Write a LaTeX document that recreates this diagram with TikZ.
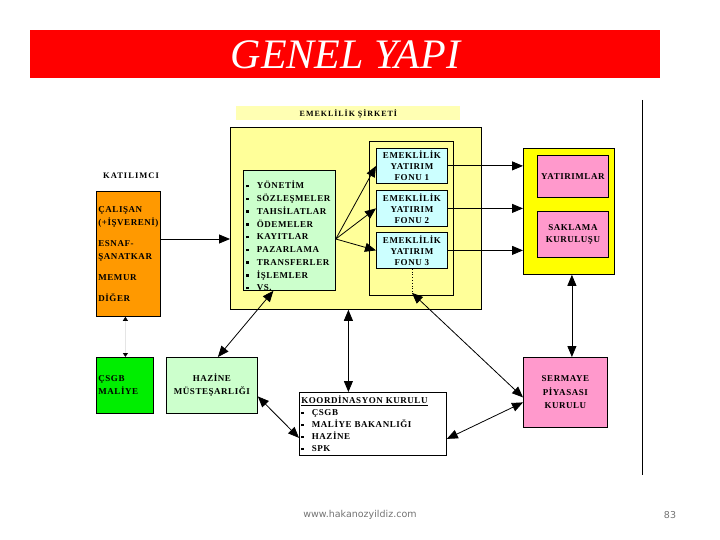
\documentclass[tikz,border=0pt]{standalone}
\usepackage{fontspec}
\setmainfont{Liberation Serif}
\newfontfamily\kutufont[LetterSpace=6]{Liberation Serif}
\newfontfamily\etiketfont[LetterSpace=12]{Liberation Serif}
\newfontfamily\altfont{DejaVu Sans}
\usetikzlibrary{arrows.meta,positioning}

\definecolor{baslikkirmizi}{HTML}{FF0000}
\definecolor{sirketsari}{HTML}{FFFF99}
\definecolor{etiketsari}{HTML}{FFFFB3}
\definecolor{listeyesil}{HTML}{CCFFCC}
\definecolor{fonmavi}{HTML}{CCFFFF}
\definecolor{varliksari}{HTML}{FFFF00}
\definecolor{pembe}{HTML}{FF99CC}
\definecolor{turuncu}{HTML}{FF9900}
\definecolor{yesil}{HTML}{00EE00}

\newcommand{\madde}{\rule[1.5pt]{2.5pt}{2.5pt}\hspace{8pt}}

\begin{document}
\begin{tikzpicture}[x=1pt,y=-1pt,line width=0.8pt,
    kutu/.style={draw,anchor=north west,inner sep=2pt,align=center,
      font=\kutufont\bfseries\fontsize{9}{12.5}\selectfont},
    ok/.style={-{Triangle[length=11pt,width=9pt]}},
    ciftok/.style={{Triangle[length=11pt,width=9pt]}-{Triangle[length=11pt,width=9pt]}},
    kucukok/.style={{Triangle[length=4pt,width=5pt,color=black]}-{Triangle[length=4pt,width=5pt,color=black]},draw=black!10}]
    \useasboundingbox (0,0) rectangle (720,540);

    % baslik
    \node[fill=baslikkirmizi,text=white,anchor=north west,inner sep=0,
      minimum width=630pt,minimum height=48pt,
      font=\itshape\fontsize{42}{42}\selectfont] (baslik) at (30,30) {GENEL YAPI};
    \draw[line width=1pt] (642,100) -- (642,475);

    % emeklilik sirketi
    \node[fill=etiketsari,anchor=north west,inner sep=0,minimum width=224pt,minimum height=14pt,
      font=\etiketfont\bfseries\fontsize{8}{8}\selectfont] (sirketadi) at (236,106) {EMEKLİLİK ŞİRKETİ};
    \node[kutu,fill=sirketsari,minimum width=251pt,minimum height=182pt] (sirket) at (230,127) {};
    \node[kutu,fill=sirketsari,minimum width=84pt,minimum height=154pt] (fonlar) at (369,141) {};
    \node[kutu,fill=listeyesil,minimum width=92pt,minimum height=120pt] (liste) at (243,170) {};
    \node[anchor=west,inner sep=0,align=left,
      font=\kutufont\bfseries\fontsize{9}{12.75}\selectfont] (listeyazi) at (246,236)
      {\madde YÖNETİM\\ \madde SÖZLEŞMELER\\ \madde TAHSİLATLAR\\ \madde ÖDEMELER\\ \madde KAYITLAR\\
       \madde PAZARLAMA\\ \madde TRANSFERLER\\ \madde İŞLEMLER\\ \madde VS.};
    \node[kutu,fill=fonmavi,minimum width=71pt,minimum height=35pt,
      font=\kutufont\bfseries\fontsize{9}{11}\selectfont] (fon1) at (376,148) {EMEKLİLİK\\YATIRIM\\FONU 1};
    \node[kutu,fill=fonmavi,minimum width=71pt,minimum height=36pt,
      font=\kutufont\bfseries\fontsize{9}{11}\selectfont] (fon2) at (376,190) {EMEKLİLİK\\YATIRIM\\FONU 2};
    \node[kutu,fill=fonmavi,minimum width=71pt,minimum height=36pt,
      font=\kutufont\bfseries\fontsize{9}{11}\selectfont] (fon3) at (376,232) {EMEKLİLİK\\YATIRIM\\FONU 3};

    % yatirimlar ve saklama
    \node[kutu,fill=varliksari,minimum width=91pt,minimum height=126pt] (varlik) at (523,148) {};
    \node[kutu,fill=pembe,minimum width=71pt,minimum height=42pt] (yatirimlar) at (537,155) {YATIRIMLAR};
    \node[kutu,fill=pembe,minimum width=71pt,minimum height=46pt] (saklama) at (537,211) {SAKLAMA\\KURULUŞU};

    % katilimci
    \node[anchor=center,inner sep=0,font=\etiketfont\bfseries\fontsize{8.5}{9}\selectfont] (katilimciadi) at (131,176) {KATILIMCI};
    \node[kutu,fill=turuncu,text width=60pt,align=left,minimum height=125pt,
      font=\kutufont\bfseries\fontsize{9}{13}\selectfont] (katilimci) at (96,191)
      {ÇALIŞAN\\(+İŞVERENİ)\\[8pt]ESNAF-\\ŞANATKAR\\[8pt]MEMUR\\[8pt]DİĞER};

    % alt kutular
    \node[kutu,fill=yesil,text width=53pt,align=left,minimum height=56pt,
      font=\kutufont\bfseries\fontsize{9}{13}\selectfont] (csgb) at (96,357) {ÇSGB\\MALİYE};
    \node[kutu,fill=listeyesil,minimum width=91pt,minimum height=56pt,
      font=\kutufont\bfseries\fontsize{9}{13}\selectfont] (hazine) at (166,357) {HAZİNE\\MÜSTEŞARLIĞI};
    \node[kutu,fill=white,text width=143pt,align=left,minimum height=63pt,
      font=\kutufont\bfseries\fontsize{9}{12}\selectfont] (koord) at (299,392)
      {\underline{KOORDİNASYON KURULU}\\ \madde ÇSGB\\ \madde MALİYE BAKANLIĞI\\ \madde HAZİNE\\ \madde SPK};
    \node[kutu,fill=pembe,minimum width=84pt,minimum height=70pt,
      font=\kutufont\bfseries\fontsize{9}{13.5}\selectfont] (spk) at (523,357) {SERMAYE\\PİYASASI\\KURULU};

    % baglantilar
    \coordinate (kolhizasi) at (0,239);
    \coordinate (dagitim) at (liste.east |- kolhizasi);
    \coordinate (fonucu) at ([yshift=-24pt]fon3.south);
    \draw[ok] (katilimci.east |- kolhizasi) -- (sirket.west |- kolhizasi);
    \foreach \i in {1,2,3}{
      \draw[ok] (dagitim) -- (fon\i.west);
      \draw[ok] (fon\i.east) -- (fon\i.east -| varlik.west);
    }
    \draw[dotted] (fon3.south) -- (fonucu);
    \draw[ciftok] (fonucu) -- ([yshift=-5pt]spk.west);
    \draw[ciftok] ([xshift=3pt]varlik.south) -- ([xshift=3pt]varlik.south |- spk.north);
    \draw[ciftok] ([xshift=-7.5pt]sirket.south) -- ([xshift=-7.5pt]sirket.south |- koord.north);
    \draw[ciftok] ([xshift=-16pt]liste.south) -- ([xshift=6pt]hazine.north);
    \draw[ciftok] ([yshift=-11pt]hazine.east) -- ([yshift=-14pt]koord.west);
    \draw[ciftok] ([yshift=-15pt]koord.east) -- ([yshift=-10pt]spk.west);
    \draw[kucukok] ([xshift=-3pt]katilimci.south) -- ([xshift=-3pt]katilimci.south |- csgb.north);

    % alt bilgi
    \node[text=black!55,font=\altfont\fontsize{9.5}{11}\selectfont] (site) at (360,515) {www.hakanozyildiz.com};
    \node[text=black!55,font=\altfont\fontsize{9.5}{11}\selectfont] (sayfa) at (670,515) {83};
\end{tikzpicture}
\end{document}
